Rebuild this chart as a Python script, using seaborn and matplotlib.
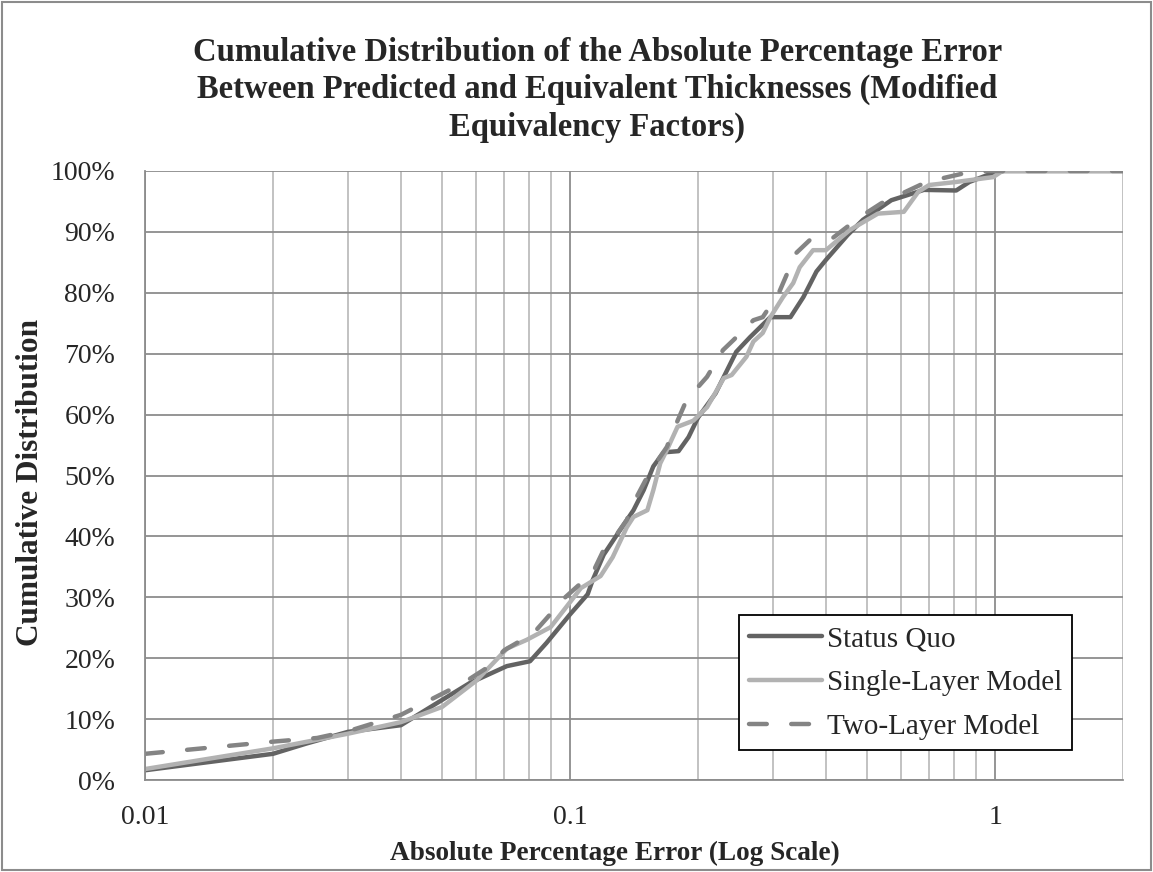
import numpy as np
import pandas as pd
import matplotlib
matplotlib.use("Agg")
import matplotlib.pyplot as plt
import matplotlib.ticker as mticker
from matplotlib.patches import Rectangle
import seaborn as sns

# Status Quo
sq_x = [0.01, 0.02, 0.024, 0.03, 0.04, 0.047, 0.058, 0.071, 0.0805, 0.088, 0.1, 0.11,
        0.113, 0.12, 0.131, 0.141, 0.149, 0.157, 0.166, 0.18, 0.19, 0.2, 0.22, 0.246,
        0.265, 0.296, 0.33, 0.354, 0.38, 0.40, 0.45, 0.489, 0.57, 0.68, 0.81, 0.87,
        0.99, 1.05, 2.0]
sq_y = [1.6, 4.3, 6.0, 7.9, 9.0, 12.0, 15.9, 18.7, 19.5, 22.5, 27.2, 30.5,
        32.8, 37.0, 41.0, 44.3, 47.6, 51.5, 53.8, 54.0, 56.3, 59.5, 63.5, 70.3,
        72.7, 76.0, 76.0, 79.3, 83.5, 85.4, 89.5, 92.0, 95.2, 96.9, 96.8, 98.2,
        99.7, 100, 100]

# Single-Layer Model
sl_x = [0.01, 0.02, 0.03, 0.04, 0.05, 0.0604, 0.0711, 0.079, 0.09, 0.1, 0.106, 0.118,
        0.126, 0.136, 0.141, 0.152, 0.157, 0.163, 0.169, 0.179, 0.195, 0.21, 0.23,
        0.24, 0.26, 0.27, 0.284, 0.296, 0.317, 0.335, 0.347, 0.373, 0.40, 0.455,
        0.53, 0.61, 0.66, 0.70, 0.81, 0.99, 1.04, 2.0]
sl_y = [1.8, 5.2, 7.6, 9.5, 12.0, 16.4, 21.6, 23.0, 25.1, 29.2, 31.5, 33.5,
        36.6, 41.5, 43.2, 44.3, 47.6, 52.0, 54.2, 58.0, 59.0, 61.2, 66.0,
        66.5, 69.5, 72.0, 73.4, 76.0, 79.3, 81.6, 84.2, 87.0, 87.0, 90.3,
        93.0, 93.3, 96.6, 97.7, 98.2, 99.0, 100, 100]

# Two-Layer Model
tl_x = [0.01, 0.02, 0.0254, 0.03, 0.04, 0.047, 0.056, 0.064, 0.07, 0.082, 0.093, 0.096,
        0.106, 0.113, 0.12, 0.126, 0.136, 0.141, 0.152, 0.157, 0.169, 0.174, 0.188,
        0.21, 0.229, 0.242, 0.27, 0.284, 0.31, 0.34, 0.367, 0.415, 0.48, 0.54, 0.69,
        0.83, 0.96, 2.0]
tl_y = [4.3, 6.3, 6.9, 8.0, 10.7, 13.2, 15.9, 18.5, 21.3, 24.1, 28.4, 29.6,
        32.3, 34.0, 37.8, 39.4, 42.7, 45.5, 49.8, 51.4, 54.7, 57.0, 62.4,
        66.2, 70.6, 72.2, 75.5, 76.0, 80.0, 86.5, 88.7, 89.0, 92.4, 94.7, 98.2,
        99.5, 100, 100]

x_ticks = [0.01, 0.1, 1]
x_tick_labels = ["0.01", "0.1", "1"]

sns.set_style("white")
plt.rcParams['font.family'] = ['Liberation Serif', 'DejaVu Serif']

fig = plt.figure(figsize=(11.53, 8.72), dpi=100)
ax = fig.add_axes([0.1258, 0.1055, 0.8482, 0.6984])

series = [
    ("Status Quo", sq_x, sq_y, "#636363", "-"),
    ("Single-Layer Model", sl_x, sl_y, "#b2b2b2", "-"),
    ("Two-Layer Model", tl_x, tl_y, "#848484", (0, (4, 5.5))),
]
for name, xs, ys, col, ls in series:
    df = pd.DataFrame({"x": xs, "y": np.array(ys) / 100.0})
    sns.lineplot(data=df, x="x", y="y", ax=ax, color=col, linewidth=3.2,
                 linestyle=ls, label=name, estimator=None, sort=False,
                 solid_capstyle="round", dash_capstyle="round")

ax.set_xscale("log")
ax.set_xlim(0.01, 2)
ax.set_ylim(0, 1)
ax.xaxis.set_major_locator(mticker.FixedLocator(x_ticks))
ax.xaxis.set_major_formatter(mticker.FixedFormatter(x_tick_labels))
ax.xaxis.set_minor_locator(mticker.LogLocator(base=10, subs=np.arange(2, 10)))
ax.xaxis.set_minor_formatter(mticker.NullFormatter())
ax.yaxis.set_major_locator(mticker.MultipleLocator(0.1))
ax.yaxis.set_major_formatter(mticker.PercentFormatter(1.0, decimals=0))

ax.grid(True, which="major", axis="both", color="#8c8c8c", linewidth=1.3)
ax.grid(True, which="minor", axis="x", color="#bdbdbd", linewidth=1.3)
ax.set_axisbelow(True)

for s in ["top", "right"]:
    ax.spines[s].set_visible(False)
for s in ["left", "bottom"]:
    ax.spines[s].set_color("#8c8c8c")
    ax.spines[s].set_linewidth(1.3)

ax.tick_params(axis="both", which="major", direction="out", length=8, width=1.3,
               color="#8c8c8c", labelsize=20)
ax.tick_params(axis="x", which="minor", length=0)
ax.tick_params(axis="x", which="major", pad=10)
ax.tick_params(axis="y", which="major", pad=13.5)

ax.set_xlabel("Absolute Percentage Error (Log Scale)", fontsize=19.6, fontweight="bold",
              va="center")
ax.xaxis.set_label_coords(0.48, -0.12)
ax.set_ylabel("Cumulative Distribution", fontsize=22.5, fontweight="bold",
              va="center", ha="center")
ax.yaxis.set_label_coords(-0.1176, 0.488)
fig.suptitle("Cumulative Distribution of the Absolute Percentage Error\n"
             "Between Predicted and Equivalent Thicknesses (Modified\n"
             "Equivalency Factors)", fontsize=23.5, fontweight="bold",
             x=0.518, y=0.958, va="top", linespacing=1.26)

leg = ax.legend(loc="lower right", bbox_to_anchor=(0.948, 0.049), fontsize=21,
                frameon=True, fancybox=False, edgecolor="black", framealpha=1,
                handlelength=2.5, handletextpad=0.15, borderpad=0.35, labelspacing=0.6,
                borderaxespad=0)
leg.get_frame().set_linewidth(1.3)

fig.patches.append(Rectangle((0.002, 0.002), 0.996, 0.996, transform=fig.transFigure,
                             fill=False, edgecolor="#8c8c8c", linewidth=1.5))

fig.savefig("out.png", dpi=100)
